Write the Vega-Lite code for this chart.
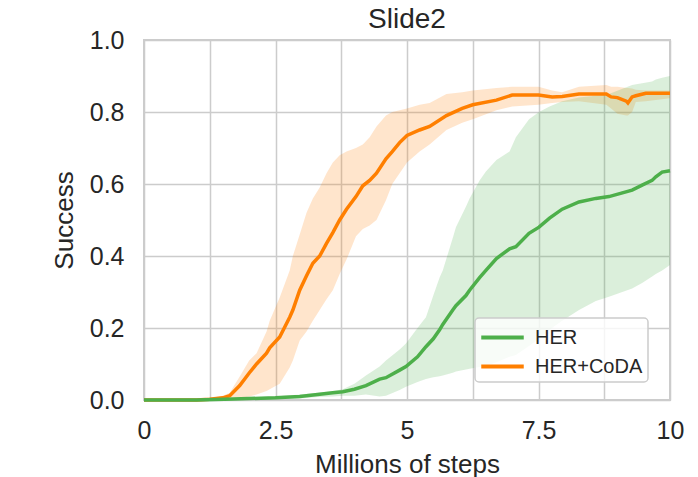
{
  "$schema": "https://vega.github.io/schema/vega-lite/v6.json",
  "width": 526,
  "height": 360,
  "autosize": "none",
  "padding": {"left": 144, "top": 40, "right": 28, "bottom": 77},
  "background": "white",
  "title": {"text": "Slide2", "fontSize": 28, "font": "Liberation Sans", "fontWeight": "normal", "color": "#262626", "offset": -6},
  "config": {
    "font": "Liberation Sans",
    "view": {"stroke": "#cccccc", "strokeWidth": 2},
    "axis": {"grid": true, "gridColor": "#cccccc", "gridWidth": 1.5, "domain": false, "ticks": false, "labelFontSize": 25, "titleFontSize": 26, "labelColor": "#262626", "titleColor": "#262626", "titleFontWeight": "normal", "labelFont": "Liberation Sans", "titleFont": "Liberation Sans"}
  },
  "data": {"values": [
    {"s": "HER+CoDA", "x": 0, "m": 0, "lo": 0, "hi": 0},
    {"s": "HER+CoDA", "x": 0.5, "m": 0, "lo": 0, "hi": 0},
    {"s": "HER+CoDA", "x": 1.0, "m": 0, "lo": 0, "hi": 0.002},
    {"s": "HER+CoDA", "x": 1.25, "m": 0.002, "lo": 0, "hi": 0.005},
    {"s": "HER+CoDA", "x": 1.5, "m": 0.006, "lo": 0, "hi": 0.012},
    {"s": "HER+CoDA", "x": 1.63, "m": 0.012, "lo": 0, "hi": 0.02},
    {"s": "HER+CoDA", "x": 1.82, "m": 0.04, "lo": 0.005, "hi": 0.065},
    {"s": "HER+CoDA", "x": 2.0, "m": 0.075, "lo": 0.01, "hi": 0.11},
    {"s": "HER+CoDA", "x": 2.14, "m": 0.1, "lo": 0.015, "hi": 0.13},
    {"s": "HER+CoDA", "x": 2.33, "m": 0.13, "lo": 0.025, "hi": 0.19},
    {"s": "HER+CoDA", "x": 2.39, "m": 0.145, "lo": 0.03, "hi": 0.22},
    {"s": "HER+CoDA", "x": 2.58, "m": 0.175, "lo": 0.045, "hi": 0.285},
    {"s": "HER+CoDA", "x": 2.77, "m": 0.23, "lo": 0.09, "hi": 0.36},
    {"s": "HER+CoDA", "x": 2.83, "m": 0.25, "lo": 0.11, "hi": 0.4},
    {"s": "HER+CoDA", "x": 2.96, "m": 0.305, "lo": 0.165, "hi": 0.46},
    {"s": "HER+CoDA", "x": 3.09, "m": 0.345, "lo": 0.19, "hi": 0.52},
    {"s": "HER+CoDA", "x": 3.21, "m": 0.38, "lo": 0.22, "hi": 0.56},
    {"s": "HER+CoDA", "x": 3.34, "m": 0.4, "lo": 0.25, "hi": 0.59},
    {"s": "HER+CoDA", "x": 3.47, "m": 0.435, "lo": 0.28, "hi": 0.63},
    {"s": "HER+CoDA", "x": 3.59, "m": 0.465, "lo": 0.305, "hi": 0.66},
    {"s": "HER+CoDA", "x": 3.72, "m": 0.5, "lo": 0.35, "hi": 0.68},
    {"s": "HER+CoDA", "x": 3.85, "m": 0.53, "lo": 0.39, "hi": 0.69},
    {"s": "HER+CoDA", "x": 4.03, "m": 0.565, "lo": 0.455, "hi": 0.7},
    {"s": "HER+CoDA", "x": 4.16, "m": 0.595, "lo": 0.475, "hi": 0.71},
    {"s": "HER+CoDA", "x": 4.29, "m": 0.61, "lo": 0.485, "hi": 0.73},
    {"s": "HER+CoDA", "x": 4.42, "m": 0.63, "lo": 0.5, "hi": 0.76},
    {"s": "HER+CoDA", "x": 4.6, "m": 0.67, "lo": 0.555, "hi": 0.79},
    {"s": "HER+CoDA", "x": 4.72, "m": 0.69, "lo": 0.6, "hi": 0.8},
    {"s": "HER+CoDA", "x": 4.86, "m": 0.715, "lo": 0.63, "hi": 0.805},
    {"s": "HER+CoDA", "x": 5.0, "m": 0.735, "lo": 0.66, "hi": 0.81},
    {"s": "HER+CoDA", "x": 5.24, "m": 0.75, "lo": 0.69, "hi": 0.82},
    {"s": "HER+CoDA", "x": 5.43, "m": 0.76, "lo": 0.71, "hi": 0.825},
    {"s": "HER+CoDA", "x": 5.75, "m": 0.79, "lo": 0.75, "hi": 0.85},
    {"s": "HER+CoDA", "x": 6.05, "m": 0.81, "lo": 0.77, "hi": 0.855},
    {"s": "HER+CoDA", "x": 6.25, "m": 0.82, "lo": 0.78, "hi": 0.86},
    {"s": "HER+CoDA", "x": 6.7, "m": 0.833, "lo": 0.805, "hi": 0.867},
    {"s": "HER+CoDA", "x": 7.0, "m": 0.847, "lo": 0.815, "hi": 0.87},
    {"s": "HER+CoDA", "x": 7.5, "m": 0.847, "lo": 0.82, "hi": 0.87},
    {"s": "HER+CoDA", "x": 7.76, "m": 0.842, "lo": 0.825, "hi": 0.86},
    {"s": "HER+CoDA", "x": 7.95, "m": 0.843, "lo": 0.828, "hi": 0.855},
    {"s": "HER+CoDA", "x": 8.27, "m": 0.85, "lo": 0.83, "hi": 0.87},
    {"s": "HER+CoDA", "x": 8.79, "m": 0.85, "lo": 0.82, "hi": 0.875},
    {"s": "HER+CoDA", "x": 8.88, "m": 0.842, "lo": 0.81, "hi": 0.87},
    {"s": "HER+CoDA", "x": 9.0, "m": 0.84, "lo": 0.795, "hi": 0.87},
    {"s": "HER+CoDA", "x": 9.17, "m": 0.83, "lo": 0.79, "hi": 0.867},
    {"s": "HER+CoDA", "x": 9.2, "m": 0.825, "lo": 0.79, "hi": 0.867},
    {"s": "HER+CoDA", "x": 9.28, "m": 0.842, "lo": 0.8, "hi": 0.865},
    {"s": "HER+CoDA", "x": 9.35, "m": 0.845, "lo": 0.828, "hi": 0.862},
    {"s": "HER+CoDA", "x": 9.54, "m": 0.852, "lo": 0.83, "hi": 0.86},
    {"s": "HER+CoDA", "x": 10, "m": 0.852, "lo": 0.838, "hi": 0.86},
    {"s": "HER", "x": 0, "m": 0, "lo": 0, "hi": 0},
    {"s": "HER", "x": 1.0, "m": 0, "lo": 0, "hi": 0},
    {"s": "HER", "x": 1.7, "m": 0.003, "lo": 0, "hi": 0.005},
    {"s": "HER", "x": 2.5, "m": 0.006, "lo": 0.002, "hi": 0.01},
    {"s": "HER", "x": 2.96, "m": 0.01, "lo": 0.004, "hi": 0.015},
    {"s": "HER", "x": 3.3, "m": 0.015, "lo": 0.008, "hi": 0.02},
    {"s": "HER", "x": 3.59, "m": 0.02, "lo": 0.01, "hi": 0.025},
    {"s": "HER", "x": 3.78, "m": 0.023, "lo": 0.012, "hi": 0.03},
    {"s": "HER", "x": 4.0, "m": 0.03, "lo": 0.012, "hi": 0.045},
    {"s": "HER", "x": 4.22, "m": 0.04, "lo": 0.015, "hi": 0.068},
    {"s": "HER", "x": 4.48, "m": 0.058, "lo": 0.01, "hi": 0.093},
    {"s": "HER", "x": 4.6, "m": 0.062, "lo": 0.012, "hi": 0.11},
    {"s": "HER", "x": 4.86, "m": 0.083, "lo": 0.028, "hi": 0.14},
    {"s": "HER", "x": 4.98, "m": 0.093, "lo": 0.037, "hi": 0.157},
    {"s": "HER", "x": 5.2, "m": 0.12, "lo": 0.05, "hi": 0.2},
    {"s": "HER", "x": 5.36, "m": 0.148, "lo": 0.058, "hi": 0.23},
    {"s": "HER", "x": 5.5, "m": 0.17, "lo": 0.063, "hi": 0.29},
    {"s": "HER", "x": 5.62, "m": 0.195, "lo": 0.066, "hi": 0.34},
    {"s": "HER", "x": 5.68, "m": 0.21, "lo": 0.068, "hi": 0.36},
    {"s": "HER", "x": 5.87, "m": 0.25, "lo": 0.076, "hi": 0.45},
    {"s": "HER", "x": 5.93, "m": 0.262, "lo": 0.079, "hi": 0.48},
    {"s": "HER", "x": 6.12, "m": 0.29, "lo": 0.085, "hi": 0.537},
    {"s": "HER", "x": 6.19, "m": 0.305, "lo": 0.087, "hi": 0.56},
    {"s": "HER", "x": 6.38, "m": 0.34, "lo": 0.092, "hi": 0.61},
    {"s": "HER", "x": 6.5, "m": 0.36, "lo": 0.095, "hi": 0.635},
    {"s": "HER", "x": 6.7, "m": 0.393, "lo": 0.105, "hi": 0.667},
    {"s": "HER", "x": 6.95, "m": 0.42, "lo": 0.12, "hi": 0.69},
    {"s": "HER", "x": 7.07, "m": 0.426, "lo": 0.125, "hi": 0.73},
    {"s": "HER", "x": 7.32, "m": 0.463, "lo": 0.15, "hi": 0.78},
    {"s": "HER", "x": 7.51, "m": 0.48, "lo": 0.17, "hi": 0.8},
    {"s": "HER", "x": 7.71, "m": 0.505, "lo": 0.195, "hi": 0.815},
    {"s": "HER", "x": 7.95, "m": 0.53, "lo": 0.22, "hi": 0.83},
    {"s": "HER", "x": 8.27, "m": 0.55, "lo": 0.25, "hi": 0.84},
    {"s": "HER", "x": 8.59, "m": 0.56, "lo": 0.275, "hi": 0.845},
    {"s": "HER", "x": 8.84, "m": 0.565, "lo": 0.287, "hi": 0.85},
    {"s": "HER", "x": 9.28, "m": 0.583, "lo": 0.31, "hi": 0.875},
    {"s": "HER", "x": 9.47, "m": 0.597, "lo": 0.325, "hi": 0.88},
    {"s": "HER", "x": 9.66, "m": 0.61, "lo": 0.343, "hi": 0.885},
    {"s": "HER", "x": 9.73, "m": 0.62, "lo": 0.35, "hi": 0.89},
    {"s": "HER", "x": 9.85, "m": 0.633, "lo": 0.36, "hi": 0.895},
    {"s": "HER", "x": 10, "m": 0.637, "lo": 0.375, "hi": 0.9}
  ]},
  "encoding": {
    "x": {"field": "x", "type": "quantitative", "scale": {"domain": [0, 10], "nice": false}, "title": "Millions of steps",
      "axis": {"values": [0, 1.25, 2.5, 3.75, 5, 6.25, 7.5, 8.75, 10], "labelExpr": "indexof([0, 2.5, 5, 7.5, 10], datum.value) >= 0 ? datum.value + '' : ''", "labelPadding": 18, "titlePadding": 8, "labelFlush": false}}
  },
  "layer": [
    {
      "mark": {"type": "area", "opacity": 0.2, "interpolate": "linear"},
      "encoding": {
        "y": {"field": "lo", "type": "quantitative", "scale": {"domain": [0, 1], "nice": false}},
        "y2": {"field": "hi"},
        "color": {"field": "s", "type": "nominal", "scale": {"domain": ["HER", "HER+CoDA"], "range": ["#4daf4a", "#ff7f00"]}}
      }
    },
    {
      "mark": {"type": "line", "strokeWidth": 3.5, "interpolate": "linear"},
      "encoding": {
        "y": {"field": "m", "type": "quantitative", "title": "Success", "scale": {"domain": [0, 1], "nice": false},
          "axis": {"values": [0, 0.2, 0.4, 0.6, 0.8, 1.0], "format": ".1f", "labelPadding": 20, "titlePadding": 12}},
        "color": {"field": "s", "type": "nominal", "scale": {"domain": ["HER", "HER+CoDA"], "range": ["#4daf4a", "#ff7f00"]},
          "legend": {"title": null, "orient": "none", "legendX": 331, "legendY": 278, "symbolType": "M-1.7,0H1.7", "symbolSize": 625, "symbolStrokeWidth": 4, "symbolOpacity": 1, "labelFontSize": 20, "labelColor": "#262626", "labelFont": "Liberation Sans", "labelExpr": "datum.label + ' '", "rowPadding": 4, "padding": 5, "labelOffset": 18, "symbolOffset": 8, "fillColor": "rgba(255,255,255,0.8)", "strokeColor": "#cccccc", "cornerRadius": 4,
            "encode": {"legend": {"update": {"strokeWidth": {"value": 1.5}}}}}}
      }
    }
  ]
}
